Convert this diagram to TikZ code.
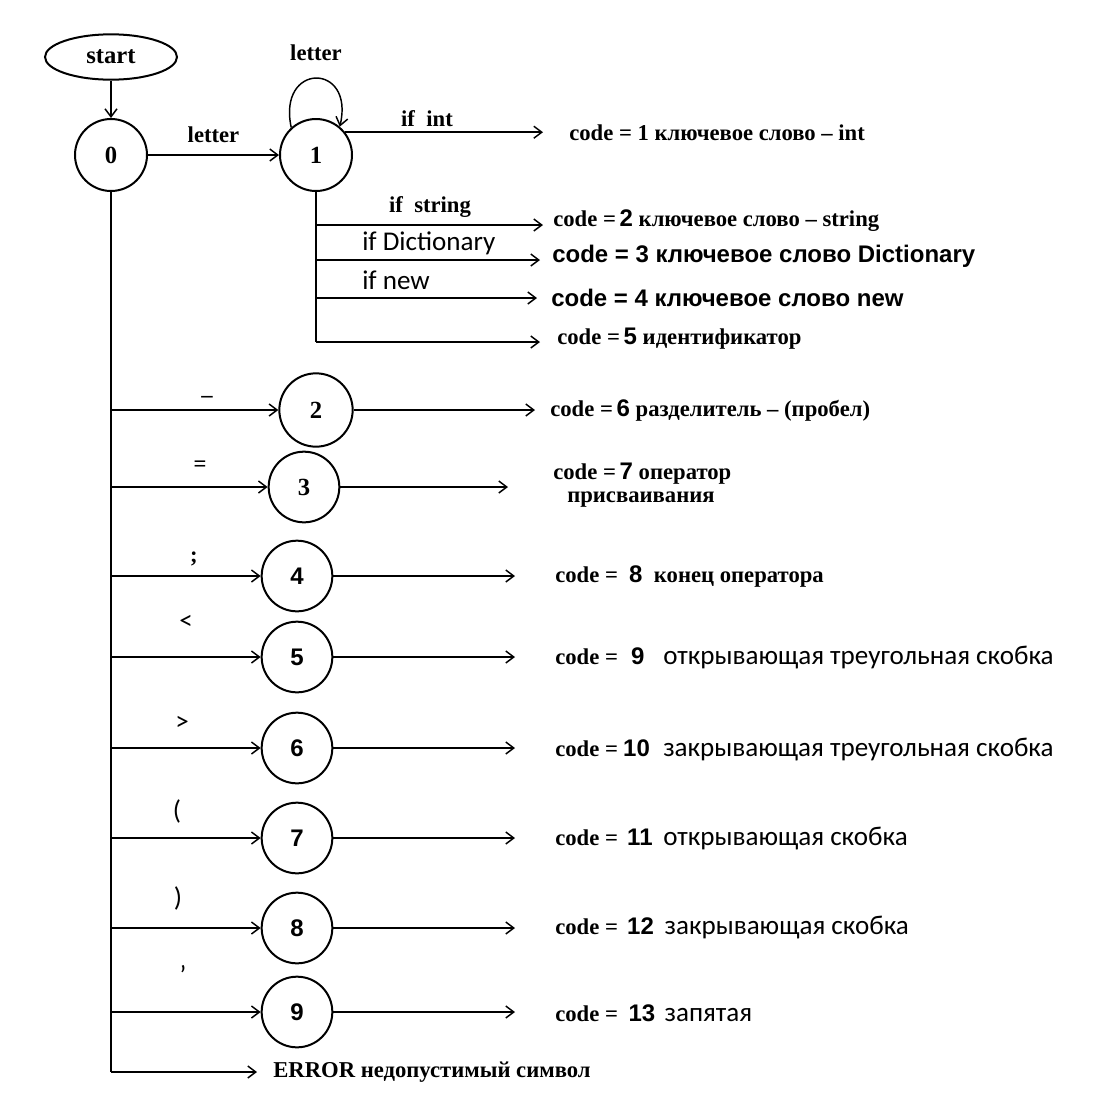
\documentclass[tikz,border=0pt]{standalone}
\usepackage{fontspec}
\setmainfont{Liberation Serif}
\newfontfamily\arialf{Liberation Sans}
\newfontfamily\calf{Carlito}
\usetikzlibrary{arrows.meta,calc,shapes.geometric}
\newcommand\fsr{\rmfamily\bfseries\fontsize{17}{19}\selectfont}
\newcommand\fsrbig{\rmfamily\bfseries\fontsize{18.5}{21}\selectfont}
\newcommand\fab{\arialf\bfseries\fontsize{18}{21}\selectfont}
\newcommand\fca{\calf\mdseries\fontsize{20.3}{23}\selectfont}
\begin{document}
\begin{tikzpicture}[x=0.75pt,y=-0.75pt,
  conn/.style={line width=1.1pt,-{Straight Barb[length=6pt,width=9pt,line width=1.1pt]}},
  plain/.style={line width=1.1pt},
  state/.style={circle,draw,line width=1.5pt,minimum size=53pt,inner sep=0pt},
  txt/.style={anchor=west,inner sep=0pt},
  lbl/.style={inner sep=0pt}]
\useasboundingbox (0,0) rectangle (1110,1118);
% start and states
\node[ellipse,draw,line width=1.5pt,minimum width=99pt,minimum height=34pt,inner sep=0pt] (start) at (111,57) {\fsrbig start};
\node[state,minimum size=54pt] (n0) at (111,155) {\fsrbig 0};
\node[state,minimum size=54pt] (n1) at (316,155) {\fsrbig 1};
\node[state,minimum size=55pt] (n2) at (316,410) {\fsrbig 2};
\node[state] (n3) at (304,487) {\fsrbig 3};
\node[state] (n4) at (297,576) {\fab 4};
\node[state] (n5) at (297,657) {\fab 5};
\node[state] (n6) at (297,748) {\fab 6};
\node[state] (n7) at (297,838) {\fab 7};
\node[state] (n8) at (297,928) {\fab 8};
\node[state] (n9) at (297,1012) {\fab 9};
% coordinates
\coordinate (b0) at (111,1072);
\coordinate (err) at (257,1072);
\coordinate (b1) at (316,342);
\coordinate (e1) at (543,133);
\coordinate (s2) at (316,225);  \coordinate (t2) at (543,225);
\coordinate (s3) at (316,260);  \coordinate (t3) at (540,260);
\coordinate (s4) at (316,298);  \coordinate (t4) at (537,298);
\coordinate (t5) at (540,342);
\foreach \i/\y in {2/410,3/487,4/576,5/657,6/748,7/838,8/928,9/1012}{
  \coordinate (a\i) at (111,\y);
}
\coordinate (o2) at (535,410);
\coordinate (o3) at (508,487);
\foreach \i/\y in {4/576,5/657,6/748,7/838,8/928,9/1012}{
  \coordinate (o\i) at (515,\y);
}
% connectors
\draw[conn] (start) -- (n0);
\draw[conn] (n0) -- node[lbl,above=9pt] {\fsr letter} (n1);
\draw[conn] (n1.132) .. controls (277,62) and (355,62) .. (n1.50);
\node[lbl] (lloop) at (316,53) {\fsr letter};
\draw[conn] (n1.38) -- (n1.38 -| e1);
\node[lbl] (lint) at (427,119) {\fsr if\ \ int};
\draw[plain] (n1.south) -- (b1);
\draw[conn] (s2) -- (t2);
\draw[conn] (s3) -- (t3);
\draw[conn] (s4) -- (t4);
\draw[conn] (b1) -- (t5);
\node[lbl] (lstr) at (430,207) {\fsr if\ \ string};
\node[txt] (ldict) at (362,243) {\fca if Dictionary};
\node[txt] (lnew) at (362,280) {\fca if new};
\draw[plain] (n0.south) -- (b0);
\draw[conn] (b0) -- (err);
\foreach \i in {2,...,9}{
  \draw[conn] (a\i) -- (n\i);
  \draw[conn] (n\i) -- (o\i);
}
% input labels
\node[lbl] (c2) at (207,399) {\fsr –};
\node[lbl] (c3) at (200,466) {\fsr =};
\node[lbl] (c4) at (194,559) {\fsr ;};
\node[lbl] (c5) at (186,622) {\fca <};
\node[lbl] (c6) at (182,723) {\fca >};
\node[lbl] (c7) at (177,811) {\fca (};
\node[lbl] (c8) at (178,898) {\fca )};
\node[lbl] (c9) at (183,975) {\fca ’};
% result texts
\node[txt] (r1) at (569,133) {\fsr code = 1 ключевое слово – int};
\node[txt] (r2) at (553,221) {\fsr code =\,{\fab 2} ключевое слово – string};
\node[txt] (r3) at (552,256) {\fab code = 3 ключевое слово Dictionary};
\node[txt] (r4) at (551,298) {\fab code = 4 ключевое слово new};
\node[txt] (r5) at (557,339) {\fsr code =\,{\fab 5} идентификатор};
\node[txt] (r6) at (550,411) {\fsr code =\,{\fab 6} разделитель – (пробел)};
\node[txt] (r7) at (553,474) {\fsr code =\,{\fab 7} оператор};
\node[txt] (r7b) at (567,500) {\fsr присваивания};
\node[txt] (r8) at (555,577) {\fsr code =\ \ {\fab 8}\ \ конец оператора};
\node[txt] (r9) at (555,657) {\fsr code =\hspace{10pt}{\fab 9}\hspace{14pt}{\fca открывающая треугольная скобка}};
\node[txt] (r10) at (555,749) {\fsr code =\hspace{4pt}{\fab 10}\hspace{10pt}{\fca закрывающая треугольная скобка}};
\node[txt] (r11) at (555,838) {\fsr code =\hspace{7pt}{\fab 11}\hspace{8pt}{\fca открывающая скобка}};
\node[txt] (r12) at (555,927) {\fsr code =\hspace{7pt}{\fab 12}\hspace{8pt}{\fca закрывающая скобка}};
\node[txt] (r13) at (555,1013) {\fsr code =\hspace{8pt}{\fab 13}\hspace{7pt}{\fca запятая}};
\node[txt] (rerr) at (273,1072) {\fsr ERROR недопустимый символ};
\end{tikzpicture}
\end{document}
